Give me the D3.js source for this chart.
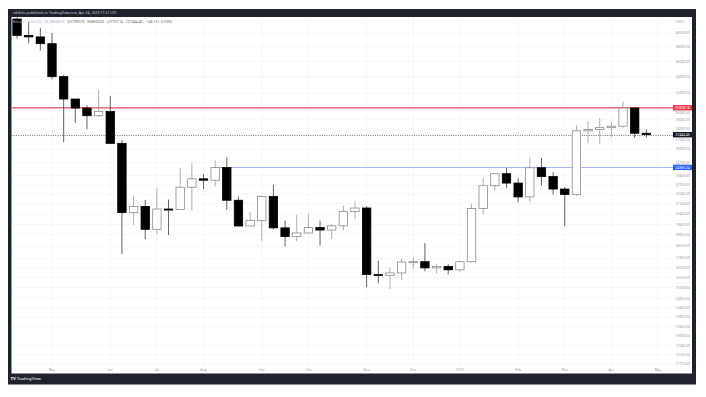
<!DOCTYPE html>
<html>
<head>
<meta charset="utf-8">
<script src="https://cdn.jsdelivr.net/npm/d3@7"></script>
<style>
  html, body { margin: 0; padding: 0; background: #fff; }
  svg { display: block; font-family: "Noto Sans", Roboto, sans-serif; }
</style>
</head>
<body>
<script>
// weekly BTC/USDT candles, first week starts Mon 11 Apr 2022
var firstWeek = Date.UTC(2022, 3, 11);
var opens  = [42158, 39678, 39450, 38469, 34038, 31328, 30293, 29445, 29919, 26574,
              20553, 21027, 19315, 20825, 20785, 22579, 23296, 23174, 24305, 21515,
              19555, 19950, 21826, 19419, 18803, 19056, 19439, 19262, 19567, 20627,
              20905, 16329, 16280, 16428, 17105, 17127, 16738, 16832, 16618, 17127,
              20871, 22707, 23742, 22932, 21783, 24275, 23492, 22430, 21990, 27840,
              27990, 28171, 28323, 30295, 27590.59];
var highs  = [42420, 41700, 40797, 40023, 34243, 31330, 30600, 32400, 31700, 26900,
              21868, 21540, 22527, 21571, 24276, 24668, 23698, 24963, 25211, 21822,
              20580, 21860, 22799, 19956, 20385, 20475, 19951, 19700, 21085, 21480,
              21053, 17190, 16750, 17320, 17430, 18357, 16959, 16972, 17176, 21258,
              23371, 23816, 24255, 23340, 25216, 25180, 23880, 22602, 28390, 28868,
              29184, 28800, 31004, 30380, 28000];
var lows   = [39200, 38536, 37500, 33713, 26700, 28654, 28019, 29299, 26560, 17622,
              19637, 18626, 18966, 18910, 20760, 20706, 22432, 22664, 20761, 19520,
              19520, 18510, 19320, 18125, 18471, 19020, 18190, 18650, 19240, 20048,
              15588, 15815, 15476, 16000, 16678, 16527, 16398, 16333, 16499, 17089,
              20407, 22292, 22500, 21351, 21400, 22722, 21971, 19549, 21880, 26601,
              26508, 27200, 28170, 27125, 27157.14];
var closes = [39678, 39450, 38469, 34038, 31328, 30293, 29445, 29919, 26574, 20553,
              21027, 19315, 20825, 20785, 22579, 23296, 23174, 24305, 21515, 19555,
              19950, 21826, 19419, 18803, 19056, 19439, 19262, 19567, 20627, 20905,
              16329, 16280, 16428, 17105, 17127, 16738, 16832, 16618, 17127, 20871,
              22707, 23742, 22932, 21783, 24275, 23492, 22430, 21990, 27840, 27990,
              28171, 28323, 30295, 27590, 27444.46];

var priceTicks = [40000, 38000, 36000, 34000, 32000, 30000, 29000, 28000, 27000, 26000,
                  24750, 23600, 22750, 22000, 21250, 20450, 19650, 18950, 18150, 17350,
                  16750, 16150, 15550, 14950, 14450, 13950, 13450, 13000, 12540, 12125, 11715];
var monthLabels = ["May", "Jun", "Jul", "Aug", "Sep", "Oct", "Nov", "Dec", "2023", "Feb", "Mar", "Apr", "May"];

var resistance = 30328.18,   // red line
    support = 24305.24,      // blue line, from the Aug 8 2022 close
    supportStart = Date.UTC(2022, 7, 8);

var width = 706, height = 397;
var frame = {x: 8, y: 9, w: 688, h: 375.5},
    pane = {x: 11.5, y: 17, w: 680.5, h: 356.5},
    scaleX = 673,
    boxH = 5.4;

var dates = d3.utcMonday.range(firstWeek, d3.utcMonday.offset(firstWeek, opens.length));
var candles = dates.map(function(d, i) {
  return {date: d, o: opens[i], h: highs[i], l: lows[i], c: closes[i]};
});
var last = candles[candles.length - 1];

var x = d3.scaleUtc()
  .domain([Date.UTC(2022, 4, 2), Date.UTC(2023, 4, 1)])
  .range([52, 658]);
var y = d3.scaleLog()
  .domain([11310, 42476])
  .range([pane.y + pane.h, pane.y]);

// snap a 1px line onto a pixel row
function crisp(v) { return Math.round(v) + 0.5; }

var monthTicks = d3.utcMonth.range(Date.UTC(2022, 4, 1), Date.UTC(2023, 5, 1))
  .map(function(m, i) { return {date: d3.utcMonday.ceil(m), label: monthLabels[i]}; });

var boxes = [
  {v: resistance, fill: '#f23645'},
  {v: support, fill: '#2962ff'},
  {v: last.c, fill: '#131722'}
];

// tick label y, pushed just clear of a coloured price box when too close
function labelY(v) {
  var ty = y(v);
  boxes.forEach(function(b) {
    var by = y(b.v), d = ty - by;
    if (Math.abs(d) < boxH / 2 + 2) ty = by + (d >= 0 ? 1 : -1) * (boxH / 2 + 2);
  });
  return ty;
}

var svg = d3.select('body').append('svg')
  .attr('width', width)
  .attr('height', height);

svg.append('rect')
  .attr('x', frame.x).attr('y', frame.y)
  .attr('width', frame.w).attr('height', frame.h)
  .attr('fill', '#1e222d');
svg.append('rect')
  .attr('x', pane.x).attr('y', pane.y)
  .attr('width', pane.w).attr('height', pane.h)
  .attr('fill', '#ffffff');

svg.append('text')
  .attr('x', 12.5).attr('y', 14.4)
  .attr('font-size', 3.5)
  .attr('fill', '#d1d4dc')
  .text('rektfoto published on TradingView.com, Apr 24, 2023 11:57 UTC');

// grid
var grid = svg.append('g');
grid.selectAll('line.v')
  .data(monthTicks)
  .enter().append('line')
  .attr('class', 'v')
  .attr('x1', function(d) { return x(d.date); })
  .attr('x2', function(d) { return x(d.date); })
  .attr('y1', pane.y).attr('y2', pane.y + pane.h - 8)
  .attr('stroke', '#f3f4f7').attr('stroke-width', 0.7);
grid.selectAll('line.h')
  .data(priceTicks)
  .enter().append('line')
  .attr('class', 'h')
  .attr('x1', pane.x).attr('x2', scaleX - 1)
  .attr('y1', function(d) { return y(d); })
  .attr('y2', function(d) { return y(d); })
  .attr('stroke', '#f3f4f7').attr('stroke-width', 0.7);

// price lines
svg.append('line')
  .attr('x1', pane.x).attr('x2', scaleX)
  .attr('y1', y(resistance)).attr('y2', y(resistance))
  .attr('stroke', '#f26b76').attr('stroke-width', 1.3);
svg.append('line')
  .attr('x1', x(supportStart)).attr('x2', scaleX)
  .attr('y1', crisp(y(support))).attr('y2', crisp(y(support)))
  .attr('stroke', '#a3b5f7').attr('stroke-width', 1.2);
svg.append('line')
  .attr('x1', pane.x).attr('x2', scaleX)
  .attr('y1', crisp(y(last.c))).attr('y2', crisp(y(last.c)))
  .attr('stroke', '#555').attr('stroke-width', 0.8)
  .attr('stroke-dasharray', '1,1.3');

// candles
var bodyW = 8.4;
var c = svg.append('g').selectAll('g.candle')
  .data(candles)
  .enter().append('g')
  .attr('class', 'candle');
c.append('line')
  .attr('x1', function(d) { return x(d.date); })
  .attr('x2', function(d) { return x(d.date); })
  .attr('y1', function(d) { return y(d.h); })
  .attr('y2', function(d) { return y(d.l); })
  .attr('stroke', function(d) { return d.c >= d.o ? '#9a9a9a' : '#3a3a3a'; })
  .attr('stroke-width', 0.8);
c.append('rect')
  .attr('x', function(d) { return x(d.date) - bodyW / 2; })
  .attr('width', bodyW)
  .attr('y', function(d) { return y(Math.max(d.o, d.c)); })
  .attr('height', function(d) { return Math.max(1, Math.abs(y(d.o) - y(d.c))); })
  .attr('fill', function(d) { return d.c >= d.o ? '#ffffff' : '#000000'; })
  .attr('stroke', function(d) { return d.c >= d.o ? '#8c8c8c' : '#000000'; })
  .attr('stroke-width', 0.8);

// legend line
var chg = last.c - last.o;
var legend = svg.append('text')
  .attr('x', 13).attr('y', 23.2)
  .attr('font-size', 3.4)
  .style('white-space', 'pre');
legend.append('tspan').attr('fill', '#b2b5be').text('Bitcoin / TetherUS, 1W, BINANCE   ');
legend.append('tspan').attr('fill', '#555').text(
  'O' + last.o.toFixed(2) + '   H' + last.h.toFixed(2) + '   L' + last.l.toFixed(2) +
  '   C' + last.c.toFixed(2) + '   ' + chg.toFixed(2).replace('-', '\u2212') +
  ' (' + (chg / last.o * 100).toFixed(2).replace('-', '\u2212') + '%)');

// price scale
svg.append('text')
  .attr('x', 675.5).attr('y', 22.9)
  .attr('font-size', 3.4).attr('fill', '#9598a1')
  .text('USDT');
svg.append('g').selectAll('text')
  .data(priceTicks)
  .enter().append('text')
  .attr('x', 675.5)
  .attr('y', function(d) { return labelY(d) + 1.2; })
  .attr('font-size', 3.4)
  .attr('fill', '#9598a1')
  .text(function(d) { return d.toFixed(2); });

var b = svg.append('g').selectAll('g')
  .data(boxes)
  .enter().append('g');
b.append('rect')
  .attr('x', scaleX).attr('width', 19)
  .attr('y', function(d) { return y(d.v) - boxH / 2; })
  .attr('height', boxH)
  .attr('fill', function(d) { return d.fill; });
b.append('text')
  .attr('x', scaleX + 9.5)
  .attr('y', function(d) { return y(d.v) + 1.2; })
  .attr('text-anchor', 'middle')
  .attr('font-size', 3.4)
  .attr('fill', '#fff')
  .text(function(d) { return d.v.toFixed(2); });

// time axis
svg.append('g').selectAll('text')
  .data(monthTicks)
  .enter().append('text')
  .attr('x', function(d) { return x(d.date); })
  .attr('y', 370.6)
  .attr('text-anchor', 'middle')
  .attr('font-size', 3.4)
  .attr('fill', '#9598a1')
  .text(function(d) { return d.label; });

// footer logo
var logo = svg.append('text')
  .attr('x', 10.5).attr('y', 380.3)
  .attr('font-size', 4.2)
  .attr('fill', '#ffffff');
logo.append('tspan').attr('font-weight', 'bold').text('TV ');
logo.append('tspan').text('TradingView');
</script>
</body>
</html>
